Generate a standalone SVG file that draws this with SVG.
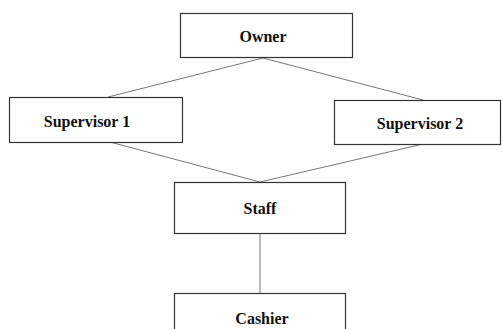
<svg xmlns="http://www.w3.org/2000/svg" width="502" height="329" viewBox="0 0 502 329">
<style>
.box{fill:#fff;stroke:#333;stroke-width:1.2}
.lbl{font-family:"Liberation Serif","Times New Roman",serif;font-weight:bold;font-size:16px;fill:#111;text-anchor:middle}
.con{stroke:#777;stroke-width:1;fill:none}
</style>
<rect width="502" height="329" fill="#fff"/>
<g id="connectors">
<line class="con" x1="263" y1="58" x2="108" y2="97"/>
<line class="con" x1="263" y1="58" x2="423" y2="100"/>
<line class="con" x1="110" y1="142" x2="260" y2="182"/>
<line class="con" x1="423" y1="144" x2="260" y2="182"/>
<line class="con" x1="260" y1="233" x2="260" y2="293"/>
</g>
<g id="owner"><rect class="box" x="180.5" y="13.5" width="172" height="44"/><text class="lbl" x="263" y="42">Owner</text></g>
<g id="supervisor1"><rect class="box" x="9.5" y="97.5" width="173" height="45"/><text class="lbl" x="87" y="127">Supervisor 1</text></g>
<g id="supervisor2"><rect class="box" x="334.5" y="100.5" width="166" height="44"/><text class="lbl" x="420" y="129">Supervisor 2</text></g>
<g id="staff"><rect class="box" x="174.5" y="182.5" width="171" height="51"/><text class="lbl" x="260" y="214">Staff</text></g>
<g id="cashier"><rect class="box" x="174.5" y="293.5" width="171" height="45"/><text class="lbl" x="262" y="324">Cashier</text></g>
</svg>
